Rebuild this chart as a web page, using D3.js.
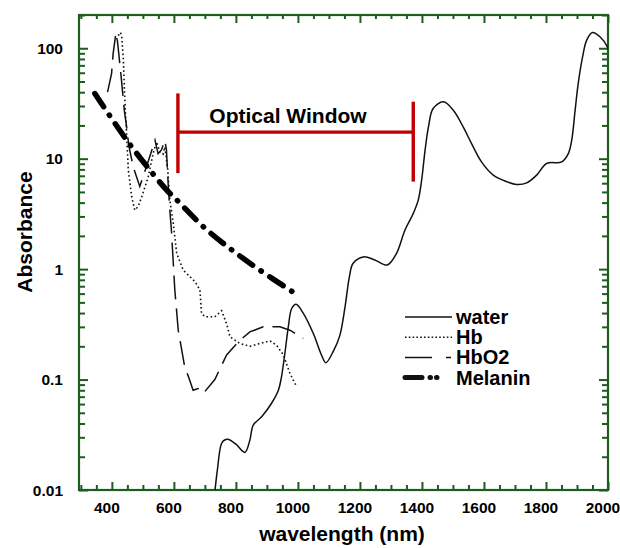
<!DOCTYPE html>
<html>
<head>
<meta charset="utf-8">
<script src="https://cdn.jsdelivr.net/npm/d3@7"></script>
<style>
	body { margin: 0; background: #fff; }
	text { font-family: "Liberation Sans", Arial, sans-serif; font-weight: bold; fill: #000; }
</style>
</head>
<body>
<script>

// absorbance curves: [wavelength nm, absorbance]
var water = [[731,0.009],[740,0.015],[754,0.0265],[765,0.0285],[775,0.0288],[800,0.026],[829,0.0219],
	[845,0.0283],[856,0.0387],[883,0.046],[915,0.061],[937,0.080],[947,0.106],[958,0.173],[969,0.30],
	[980,0.44],[994,0.48],[1017,0.40],[1050,0.26],[1076,0.167],[1090,0.142],[1114,0.18],[1135,0.25],
	[1152,0.456],[1166,0.85],[1178,1.13],[1211,1.29],[1248,1.21],[1288,1.09],[1318,1.39],[1345,2.25],
	[1372,3.19],[1388,4.21],[1399,6.4],[1410,11.9],[1421,19.4],[1436,28.5],[1469,32.7],[1501,27.5],
	[1533,19.4],[1560,13.7],[1592,9.35],[1630,7.1],[1673,6.2],[1706,5.83],[1738,6.04],[1770,7.1],
	[1802,9.05],[1851,9.35],[1872,11.1],[1883,14.7],[1894,27.5],[1904,48],[1918,83.4],[1931,118],
	[1950,139],[1974,127],[1998,103],[2005,90]];

var hb = [[415,120],[422,132],[428,139],[432,125],[437,80],[440,45],[444,25],[447,18],[453,7.9],
	[464,4.5],[474,3.42],[485,3.7],[496,4.5],[517,6.8],[533,11.1],[544,14.2],[555,11.5],[565,11],
	[571,12.8],[580,8],[587,4.2],[598,2.6],[603,1.96],[609,1.39],[630,0.98],[668,0.77],[684,0.65],
	[689,0.40],[700,0.37],[732,0.37],[754,0.42],[770,0.32],[781,0.244],[813,0.212],[845,0.20],
	[877,0.212],[910,0.224],[931,0.205],[953,0.167],[974,0.114],[996,0.086]];

var hbo2 = [[386,40],[399,59],[404,89],[412,131],[415,137],[420,103],[430,55],[440,27.5],[447,20],
	[455,13],[469,8.4],[490,5.6],[505,7.5],[520,10],[539,14.7],[549,11.1],[560,12],[571,14.7],
	[576,12],[582,5.6],[587,3.4],[592,2.25],[603,0.65],[614,0.28],[635,0.13],[646,0.108],[662,0.080],
	[678,0.083],[695,0.075],[732,0.10],[770,0.167],[813,0.227],[845,0.27],[888,0.30],[942,0.30],
	[974,0.28],[1017,0.236]];

var melanin = [[345,38.9],[448,14.7],[523,7.87],[577,5.19],[610,4.21],[700,2.35],[787,1.49],
	[877,0.98],[984,0.62]];

var seriesNames = ["water", "Hb", "HbO2", "Melanin"];
var xTicks = [400, 600, 800, 1000, 1200, 1400, 1600, 1800, 2000];
var yTicks = [0.01, 0.1, 1, 10, 100];
var yTickLabels = ["0.01", "0.1", "1", "10", "100"];

// optical window bracket: [start nm, end nm], heights at each end
var windowRange = [613, 1372];
var windowLeftBar = [39, 7.4];
var windowRightBar = [32.8, 6.2];
var windowBarLevel = 17.4;

var width = 620, height = 548;
var frame = {left: 79, right: 608, top: 15, bottom: 490};
var axisColor = "#1e5c1e";

var svg = d3.select("body").append("svg")
	.attr("width", width)
	.attr("height", height);

var xScale = d3.scaleLinear()
	.domain([294, 2000])
	.range([frame.left, frame.right]);
var yScale = d3.scaleLog()
	.domain([0.01, 200])
	.range([frame.bottom, frame.top]);

// minor ticks
var xMinor = d3.range(300, 2001, 50);
var yMinor = [];
[0.01, 0.1, 1, 10, 100].forEach(function(dec){
	for (var k = 1; k <= 9; k++) {
		if (dec * k <= 200.01) yMinor.push(dec * k);
	}
});

svg.append("defs").append("clipPath")
	.attr("id", "plot-clip")
	.append("rect")
	.attr("x", frame.left).attr("y", frame.top)
	.attr("width", frame.right - frame.left)
	.attr("height", frame.bottom - frame.top);

var isMajorX = function(v){ return v % 200 === 0; };
var isMajorY = function(v){ return yTicks.some(function(t){ return Math.abs(t - v) < t * 1e-6; }); };

// bottom + top axes
svg.append("g")
	.attr("transform", "translate(0," + frame.bottom + ")")
	.call(d3.axisBottom(xScale).tickValues(xMinor).tickSize(0).tickFormat(""))
	.call(function(g){
		g.select(".domain").remove();
		g.selectAll(".tick line")
			.attr("stroke", axisColor).attr("stroke-width", 2)
			.attr("y2", function(d){ return isMajorX(d) ? -8 : -5; });
	});
svg.append("g")
	.attr("transform", "translate(0," + frame.top + ")")
	.call(d3.axisTop(xScale).tickValues(xMinor).tickSize(0).tickFormat(""))
	.call(function(g){
		g.select(".domain").remove();
		g.selectAll(".tick line")
			.attr("stroke", axisColor).attr("stroke-width", 2)
			.attr("y2", function(d){ return isMajorX(d) ? 8 : 4; });
	});

// left + right axes
svg.append("g")
	.attr("transform", "translate(" + frame.left + ",0)")
	.call(d3.axisLeft(yScale).tickValues(yMinor).tickSize(0).tickFormat(""))
	.call(function(g){
		g.select(".domain").remove();
		g.selectAll(".tick line")
			.attr("stroke", axisColor).attr("stroke-width", 2)
			.attr("x2", function(d){ return isMajorY(d) ? 9 : 6; });
	});
svg.append("g")
	.attr("transform", "translate(" + frame.right + ",0)")
	.call(d3.axisRight(yScale).tickValues(yMinor).tickSize(0).tickFormat(""))
	.call(function(g){
		g.select(".domain").remove();
		g.selectAll(".tick line")
			.attr("stroke", axisColor).attr("stroke-width", 2)
			.attr("x2", function(d){ return isMajorY(d) ? -9 : -6; });
	});

// frame
svg.append("rect")
	.attr("x", frame.left).attr("y", frame.top)
	.attr("width", frame.right - frame.left)
	.attr("height", frame.bottom - frame.top)
	.attr("fill", "none")
	.attr("stroke", axisColor)
	.attr("stroke-width", 2.2);

// tick labels
svg.selectAll(".xlab")
	.data(xTicks)
	.enter().append("text")
	.attr("class", "xlab")
	.attr("x", function(d){ return xScale(d) - 5; })
	.attr("y", 513)
	.attr("text-anchor", "middle")
	.style("font-size", "15.5px")
	.text(function(d){ return d; });
svg.selectAll(".ylab")
	.data(yTicks)
	.enter().append("text")
	.attr("class", "ylab")
	.attr("x", 63)
	.attr("y", function(d){ return yScale(d) + 5.5; })
	.attr("text-anchor", "end")
	.style("font-size", "15.5px")
	.text(function(d, i){ return yTickLabels[i]; });

// axis titles
svg.append("text")
	.attr("text-anchor", "middle")
	.attr("x", 342).attr("y", 541)
	.style("font-size", "21px")
	.text("wavelength (nm)");
svg.append("text")
	.attr("text-anchor", "middle")
	.attr("transform", "translate(32,232) rotate(-90)")
	.style("font-size", "21px")
	.text("Absorbance");

// curves
var line = d3.line()
	.x(function(d){ return xScale(d[0]); })
	.y(function(d){ return yScale(d[1]); });
var smooth = d3.line()
	.curve(d3.curveCatmullRom)
	.x(function(d){ return xScale(d[0]); })
	.y(function(d){ return yScale(d[1]); });

var plot = svg.append("g").attr("clip-path", "url(#plot-clip)");

plot.append("path")
	.datum(water)
	.attr("d", smooth)
	.attr("fill", "none")
	.attr("stroke", "#111")
	.attr("stroke-width", 1.5);
plot.append("path")
	.datum(hb)
	.attr("d", line)
	.attr("fill", "none")
	.attr("stroke", "#111")
	.attr("stroke-width", 1.6)
	.attr("stroke-dasharray", "1.6,2.6");
plot.append("path")
	.datum(hbo2)
	.attr("d", line)
	.attr("fill", "none")
	.attr("stroke", "#111")
	.attr("stroke-width", 1.5)
	.attr("stroke-dasharray", "24,9");
plot.append("path")
	.datum(melanin)
	.attr("d", smooth)
	.attr("fill", "none")
	.attr("stroke", "#000")
	.attr("stroke-width", 5.5)
	.attr("stroke-linecap", "round")
	.attr("stroke-dasharray", "16,10,0.5,10");

// optical window bracket
var red = "#c00000";
svg.append("line")
	.attr("x1", xScale(windowRange[0])).attr("x2", xScale(windowRange[1]))
	.attr("y1", yScale(windowBarLevel)).attr("y2", yScale(windowBarLevel))
	.attr("stroke", red).attr("stroke-width", 3.2);
svg.append("line")
	.attr("x1", xScale(windowRange[0])).attr("x2", xScale(windowRange[0]))
	.attr("y1", yScale(windowLeftBar[0])).attr("y2", yScale(windowLeftBar[1]))
	.attr("stroke", red).attr("stroke-width", 3.4);
svg.append("line")
	.attr("x1", xScale(windowRange[1])).attr("x2", xScale(windowRange[1]))
	.attr("y1", yScale(windowRightBar[0])).attr("y2", yScale(windowRightBar[1]))
	.attr("stroke", red).attr("stroke-width", 3.4);
svg.append("text")
	.attr("x", 288).attr("y", 123)
	.attr("text-anchor", "middle")
	.style("font-size", "21px")
	.text("Optical Window");

// legend
var legendStyles = [
	{w: 1.5, dash: null, cap: "butt"},
	{w: 1.6, dash: "1.6,2.2", cap: "butt"},
	{w: 1.5, dash: "27,14,5,20", cap: "butt"},
	{w: 5, dash: "17,8,0.5,6,0.5,20", cap: "round"}
];
var legend = svg.append("g").attr("transform", "translate(405,317)");
seriesNames.forEach(function(name, i){
	var s = legendStyles[i];
	legend.append("line")
		.attr("x1", 0).attr("x2", 47)
		.attr("y1", i * 20.2).attr("y2", i * 20.2)
		.attr("stroke", "#111")
		.attr("stroke-width", s.w)
		.attr("stroke-linecap", s.cap)
		.attr("stroke-dasharray", s.dash);
	legend.append("text")
		.attr("x", 51)
		.attr("y", i * 20.2 + 7)
		.style("font-size", "20px")
		.text(name);
});

</script>
</body>
</html>
